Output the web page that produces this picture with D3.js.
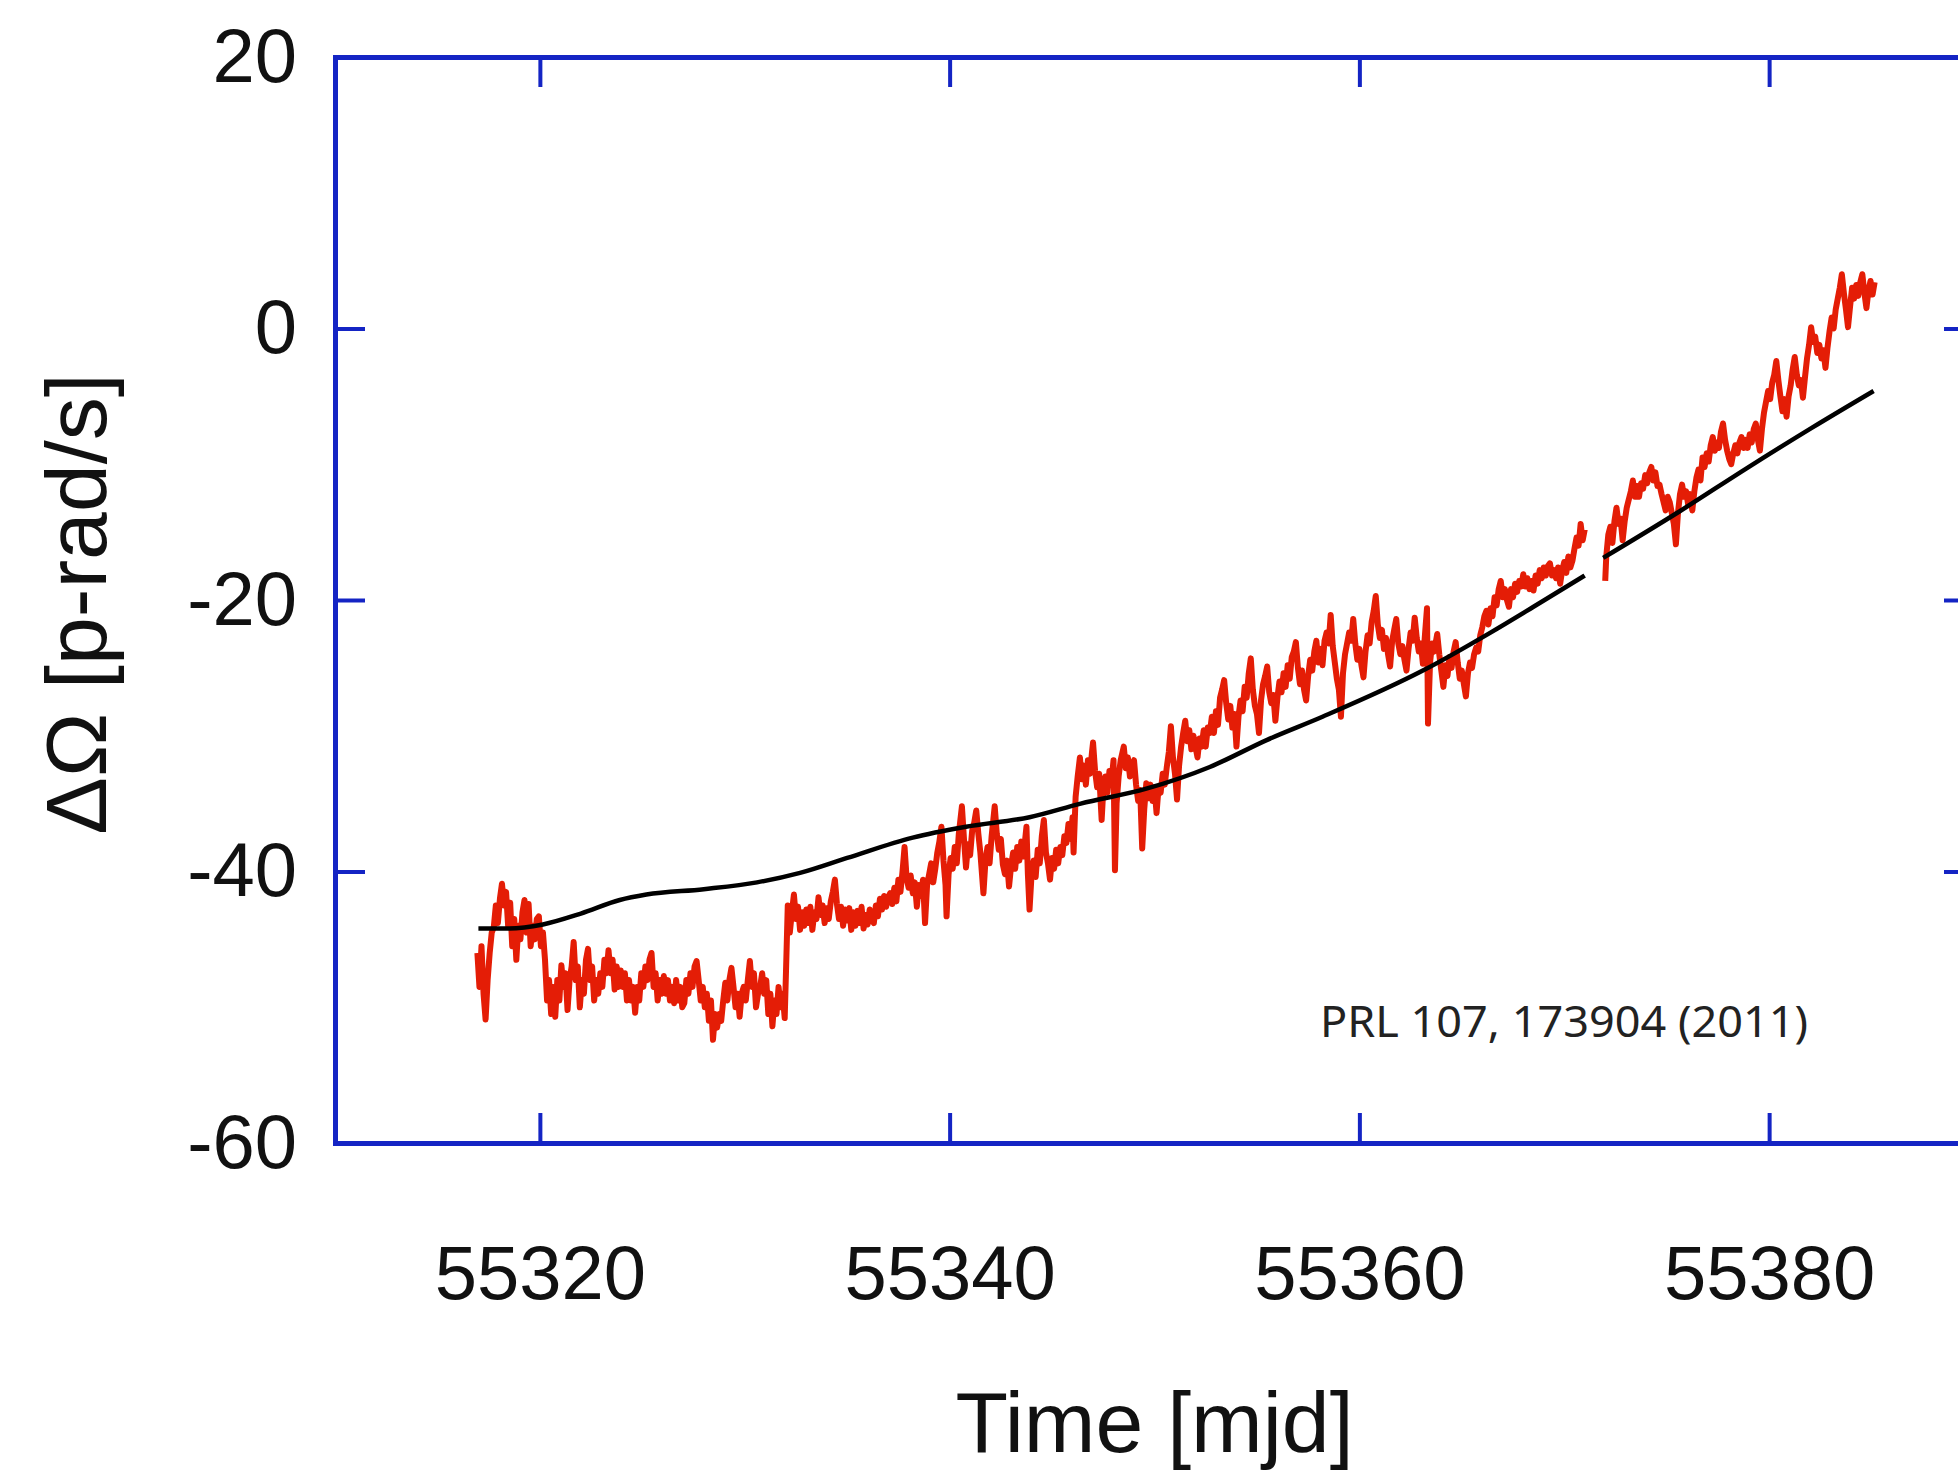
<!DOCTYPE html>
<html>
<head>
<meta charset="utf-8">
<script src="https://cdn.jsdelivr.net/npm/d3@7"></script>
<style>
  body { margin: 0; background: #fff; }
  svg { display: block; }
</style>
</head>
<body>
<div id="chart"></div>
<script>
// Chart constants
const w = 1958, h = 1476;
const frameColor = '#1424c4';
const redColor = '#e41d06';

// Axis ticks
const xTicks = [55320, 55340, 55360, 55380];
const yTicks = [-60, -40, -20, 0, 20];

// Measured spin rate, before and after the gap [mjd, p-rad/s]
const redSeg1 = [
  [55316.95,-46],[55317.05,-48.5],[55317.15,-45.5],[55317.25,-49],[55317.35,-50.9],[55317.45,-48],[55317.55,-46],[55317.65,-44.5],[55317.75,-44.1],[55317.85,-42.5],
  [55317.95,-43.8],[55318.05,-42],[55318.15,-40.9],[55318.25,-42.5],[55318.35,-41.5],[55318.45,-44],[55318.55,-42.3],[55318.65,-45.5],[55318.75,-43.5],[55318.85,-46.5],
  [55318.95,-44],[55319.05,-45],[55319.15,-43],[55319.25,-42.1],[55319.35,-44.5],[55319.45,-42.4],[55319.55,-45.5],[55319.65,-44],[55319.75,-45],[55319.85,-43.5],
  [55319.95,-43.3],[55320.05,-45.5],[55320.15,-44.5],[55320.25,-46.5],[55320.35,-49.5],[55320.45,-48],[55320.55,-50.5],[55320.65,-48.5],[55320.75,-50.7],[55320.85,-48],
  [55320.95,-49.5],[55321.05,-46.9],[55321.15,-48.5],[55321.25,-47.5],[55321.35,-50.2],[55321.45,-48],[55321.55,-47],[55321.65,-45.2],[55321.75,-48],[55321.85,-47],
  [55321.95,-50],[55322.05,-48],[55322.15,-49],[55322.25,-46.5],[55322.35,-45.7],[55322.45,-48],[55322.55,-47],[55322.65,-49.5],[55322.75,-48],[55322.85,-49],
  [55322.95,-47.5],[55323.05,-48.5],[55323.15,-46.5],[55323.25,-47.5],[55323.35,-45.8],[55323.45,-47.5],[55323.55,-46.5],[55323.65,-48.7],[55323.75,-47],[55323.85,-48.5],
  [55323.95,-47.3],[55324.05,-48.5],[55324.15,-47.5],[55324.25,-49.5],[55324.35,-48],[55324.45,-49.5],[55324.55,-48.5],[55324.65,-50.4],[55324.75,-48.5],[55324.85,-49.5],
  [55324.95,-47.5],[55325.05,-48.5],[55325.15,-47],[55325.25,-48],[55325.35,-46.5],[55325.45,-46],[55325.55,-48.5],[55325.65,-47.5],[55325.75,-49.5],[55325.85,-48],
  [55325.95,-49],[55326.05,-47.7],[55326.15,-49],[55326.25,-48],[55326.35,-49.5],[55326.45,-48.5],[55326.55,-49.7],[55326.65,-48],[55326.75,-49.5],[55326.85,-48.5],
  [55326.95,-50],[55327.05,-49.7],[55327.15,-48],[55327.25,-49],[55327.35,-47.5],[55327.45,-48.5],[55327.55,-47],[55327.65,-46.6],[55327.75,-48],[55327.85,-49.5],
  [55327.95,-48.5],[55328.05,-50],[55328.15,-49],[55328.25,-51],[55328.35,-49.5],[55328.45,-52.4],[55328.55,-50.5],[55328.65,-51.5],[55328.75,-50.5],[55328.85,-51],
  [55328.95,-49.5],[55329.05,-48.2],[55329.15,-49.5],[55329.25,-48],[55329.35,-47.1],[55329.45,-48.5],[55329.55,-50],[55329.65,-49],[55329.75,-50.7],[55329.85,-49],
  [55329.95,-48.5],[55330.05,-49.5],[55330.15,-48],[55330.25,-46.6],[55330.35,-48.5],[55330.45,-47.5],[55330.55,-50],[55330.65,-49],[55330.75,-48.5],[55330.85,-47.5],
  [55330.95,-49],[55331.05,-48],[55331.15,-50.5],[55331.25,-49],[55331.35,-51.4],[55331.45,-49.5],[55331.55,-50.5],[55331.65,-48.5],[55331.75,-50],[55331.85,-49],
  [55331.95,-50.8],[55332.02,-47],[55332.1,-42.5],[55332.2,-44.5],[55332.3,-43],[55332.4,-41.7],[55332.5,-43.5],[55332.6,-42.6],[55332.7,-44.3],[55332.8,-43],
  [55332.9,-44],[55333.0,-42.8],[55333.1,-43.8],[55333.2,-42.6],[55333.3,-44.3],[55333.4,-43],[55333.5,-43.5],[55333.6,-41.9],[55333.7,-43.2],[55333.8,-42.5],
  [55333.9,-43.8],[55334.0,-42.7],[55334.1,-43.5],[55334.2,-42.2],[55334.3,-41.5],[55334.4,-40.6],[55334.5,-42.4],[55334.6,-43.5],[55334.7,-42.6],[55334.8,-44],
  [55334.9,-42.8],[55335.0,-43.6],[55335.1,-42.7],[55335.2,-44.3],[55335.3,-43],[55335.4,-44],[55335.5,-42.9],[55335.6,-43.8],[55335.7,-42.6],[55335.8,-44.2],
  [55335.9,-43.2],[55336.0,-43.9],[55336.1,-42.8],[55336.2,-43.5],[55336.3,-43.8],[55336.4,-42.5],[55336.5,-43.3],[55336.6,-42],[55336.7,-42.8],[55336.8,-41.8],
  [55336.9,-42.6],[55337.0,-41.9],[55337.1,-41.6],[55337.2,-42.4],[55337.3,-41.2],[55337.4,-42.2],[55337.5,-40.6],[55337.6,-41.5],[55337.7,-40],[55337.8,-38.2],
  [55337.9,-40.5],[55338.0,-41.2],[55338.1,-40.3],[55338.2,-41.6],[55338.3,-40.8],[55338.4,-42.6],[55338.5,-41],[55338.6,-41.8],[55338.7,-40.6],[55338.8,-43.8],
  [55338.9,-41],[55339.0,-40.2],[55339.1,-39.4],[55339.2,-40.8],[55339.3,-39.8],[55339.4,-38.6],[55339.5,-37.8],[55339.6,-36.7],[55339.7,-39.2],[55339.8,-41],
  [55339.85,-43.3],[55339.95,-40.2],[55340.05,-39],[55340.15,-39.8],[55340.25,-38.2],[55340.35,-39.4],[55340.45,-37.2],[55340.6,-35.2],[55340.7,-37.6],[55340.8,-39.7],
  [55340.9,-38],[55341.0,-38.8],[55341.1,-37],[55341.2,-36.4],[55341.3,-35.5],[55341.4,-37.2],[55341.5,-38.6],[55341.65,-41.6],[55341.75,-39.2],[55341.85,-38.2],
  [55341.95,-39.4],[55342.05,-37.4],[55342.2,-35.2],[55342.3,-37.2],[55342.4,-38.4],[55342.5,-37.6],[55342.6,-39.5],[55342.7,-40.2],[55342.8,-39.2],[55342.9,-41.1],
  [55343.0,-39.6],[55343.1,-38.6],[55343.2,-39.8],[55343.3,-38.2],[55343.4,-39.2],[55343.5,-37.8],[55343.6,-38.9],[55343.75,-36.7],[55343.82,-40.2],[55343.9,-42.8],
  [55344.0,-40.2],[55344.1,-39.2],[55344.2,-40.4],[55344.3,-38.4],[55344.4,-39.4],[55344.5,-37.4],[55344.6,-36.2],[55344.7,-38.6],[55344.8,-39.4],[55344.9,-40.6],
  [55345.0,-39],[55345.1,-39.8],[55345.2,-38.4],[55345.3,-39.4],[55345.4,-38.2],[55345.5,-38.8],[55345.6,-37.4],[55345.7,-37.9],[55345.8,-36.5],[55345.9,-37.6],
  [55346.0,-36],[55346.05,-38.6],[55346.15,-34.5],[55346.25,-33],[55346.36,-31.6],[55346.45,-33.2],[55346.55,-32.2],[55346.65,-33.6],[55346.75,-31.8],[55346.85,-32.8],
  [55346.95,-31.2],[55347.0,-30.5],[55347.1,-32.6],[55347.2,-33.8],[55347.3,-32.8],[55347.42,-36.2],[55347.5,-34],[55347.6,-33],[55347.7,-34.2],[55347.8,-32.6],
  [55347.9,-33.4],[55348.0,-31.8],[55348.07,-39.9],[55348.15,-35],[55348.25,-33],[55348.35,-31.8],[55348.5,-30.8],[55348.6,-32.4],[55348.7,-31.6],[55348.8,-33],
  [55348.9,-32.2],[55349.0,-31.8],[55349.1,-33.6],[55349.2,-34.8],[55349.3,-34],[55349.4,-38.3],[55349.5,-35.4],[55349.6,-33.5],[55349.7,-34.6],[55349.8,-33.6],
  [55349.9,-34.8],[55350.0,-33.8],[55350.1,-35.7],[55350.2,-33.8],[55350.3,-34.2],[55350.4,-32.8],[55350.5,-33.6],[55350.6,-32.3],[55350.7,-31.2],[55350.8,-29.3],
  [55350.9,-31.6],[55351.0,-32.8],[55351.1,-34.7],[55351.2,-32.2],[55351.3,-30.8],[55351.4,-29.8],[55351.5,-28.9],[55351.6,-30.4],[55351.7,-29.6],[55351.8,-31],
  [55351.9,-30],[55352.0,-30.8],[55352.1,-31.6],[55352.2,-30.2],[55352.3,-30.8],[55352.4,-29.6],[55352.5,-30.8],[55352.6,-29.4],[55352.7,-29.8],[55352.8,-28.6],
  [55352.9,-29.8],[55353.0,-28.2],[55353.1,-29.2],[55353.2,-27.2],[55353.3,-26.6],[55353.4,-25.9],[55353.5,-27.6],[55353.6,-28.8],[55353.7,-27.8],[55353.8,-29.4],
  [55353.9,-28.4],[55354.0,-30.8],[55354.1,-28.6],[55354.2,-27.4],[55354.3,-28.2],[55354.4,-26.4],[55354.5,-27.2],[55354.6,-25.4],[55354.7,-24.3],[55354.8,-26.6],
  [55354.9,-27.8],[55355.0,-28.4],[55355.1,-29.8],[55355.2,-27.4],[55355.3,-26.2],[55355.4,-25.6],[55355.5,-24.9],[55355.6,-26.8],[55355.7,-27.6],[55355.8,-27],
  [55355.9,-28.9],[55356.0,-27.2],[55356.1,-26],[55356.2,-26.8],[55356.3,-25.4],[55356.4,-26.4],[55356.5,-24.8],[55356.6,-25.8],[55356.7,-24.2],[55356.8,-23.8],
  [55356.9,-23.1],[55357.0,-25],[55357.1,-26.2],[55357.2,-25.2],[55357.3,-26.6],[55357.4,-27.4],[55357.5,-25.6],[55357.6,-24.4],[55357.7,-25.2],[55357.8,-23.8],
  [55357.9,-23],[55358.0,-24.6],[55358.1,-23.6],[55358.2,-24.8],[55358.3,-23],[55358.4,-22.4],[55358.5,-23.2],[55358.6,-21.1],[55358.7,-23.4],[55358.8,-24.6],
  [55358.9,-25.8],[55359.0,-26.6],[55359.1,-28.6],[55359.2,-25.4],[55359.3,-24],[55359.4,-23.2],[55359.5,-22.4],[55359.6,-23],[55359.7,-21.4],[55359.8,-23.2],
  [55359.9,-24.4],[55360.0,-23.6],[55360.1,-24.8],[55360.2,-25.7],[55360.3,-23.8],[55360.4,-22.6],[55360.5,-23.2],[55360.6,-21.6],[55360.7,-20.8],[55360.8,-19.7],
  [55360.9,-21.8],[55361.0,-22.8],[55361.1,-22.2],[55361.2,-23.6],[55361.3,-22.8],[55361.4,-24],[55361.5,-24.9],[55361.6,-23],[55361.7,-22.2],[55361.8,-21.4],
  [55361.9,-23.2],[55362.0,-24],[55362.1,-23.4],[55362.2,-24.4],[55362.3,-25.2],[55362.4,-23.6],[55362.5,-22.4],[55362.6,-23],[55362.7,-21.3],[55362.8,-22.8],
  [55362.9,-23.8],[55363.0,-23.2],[55363.1,-24.7],[55363.2,-22.6],[55363.3,-20.6],[55363.35,-29.1],[55363.45,-24.6],[55363.55,-23.2],[55363.65,-23.8],[55363.8,-22.5],
  [55363.9,-24],[55364.0,-25.2],[55364.1,-26.4],[55364.2,-24.8],[55364.3,-25.6],[55364.4,-24.2],[55364.5,-25],[55364.6,-23.8],[55364.7,-23.1],[55364.8,-24.6],
  [55364.9,-25.8],[55365.0,-25.2],[55365.1,-26.2],[55365.2,-27.1],[55365.3,-25.4],[55365.4,-24.6],[55365.5,-25],[55365.6,-24],[55365.7,-23.5],[55365.8,-23.8],
  [55365.9,-22.6],[55366.0,-22],[55366.1,-21.2],[55366.2,-20.8],[55366.3,-21.8],[55366.4,-20.6],[55366.5,-21.2],[55366.6,-19.8],[55366.7,-20.4],[55366.8,-19.2],
  [55366.9,-18.6],[55367.0,-19.8],[55367.1,-19.2],[55367.2,-20],[55367.3,-20.5],[55367.4,-19.2],[55367.5,-19.8],[55367.6,-18.8],[55367.7,-19.4],[55367.8,-18.6],
  [55367.9,-19],[55368.0,-18.1],[55368.1,-19],[55368.2,-18.4],[55368.3,-19.2],[55368.4,-18.6],[55368.5,-19.3],[55368.6,-18.2],[55368.7,-18.8],[55368.8,-17.8],
  [55368.9,-18.4],[55369.0,-17.6],[55369.1,-18.2],[55369.2,-17.5],[55369.3,-17.3],[55369.4,-18.2],[55369.5,-17.8],[55369.6,-18.4],[55369.7,-17.6],[55369.8,-18.8],
  [55369.9,-17.8],[55370.0,-17.2],[55370.1,-18],[55370.2,-16.8],[55370.3,-17.6],[55370.4,-17.1],[55370.5,-16.2],[55370.6,-15.4],[55370.7,-16],[55370.8,-14.4],
  [55370.9,-15.6],[55371.0,-14.8]
];

const redSeg2 = [
  [55372.0,-18.6],[55372.05,-16.8],[55372.15,-15.2],[55372.25,-14.6],[55372.35,-15.8],[55372.45,-14.2],[55372.55,-13.2],[55372.65,-14.4],[55372.75,-14],[55372.85,-15.6],
  [55372.95,-14.2],[55373.05,-13.2],[55373.15,-12.6],[55373.25,-12],[55373.35,-11.2],[55373.45,-12.4],[55373.55,-11.6],[55373.65,-12.4],[55373.75,-11.4],[55373.85,-11.8],
  [55373.95,-10.8],[55374.05,-11.4],[55374.15,-10.6],[55374.25,-10.2],[55374.35,-11.2],[55374.45,-10.6],[55374.55,-11.6],[55374.65,-11.5],[55374.75,-12.2],[55374.85,-12.8],
  [55374.95,-13.4],[55375.05,-12.4],[55375.15,-12.8],[55375.25,-13.6],[55375.35,-14.4],[55375.45,-15.9],[55375.55,-13.6],[55375.65,-12.2],[55375.75,-11.5],[55375.85,-12.4],
  [55375.95,-12],[55376.05,-13],[55376.15,-12.2],[55376.25,-13.4],[55376.35,-12],[55376.45,-11],[55376.55,-10.4],[55376.65,-11.2],[55376.75,-9.5],[55376.85,-10.2],
  [55376.95,-9.2],[55377.05,-9.8],[55377.15,-8.6],[55377.25,-8],[55377.35,-9],[55377.45,-8.4],[55377.55,-8.8],[55377.65,-7.6],[55377.75,-7],[55377.85,-8.2],
  [55377.95,-9],[55378.05,-9.6],[55378.15,-10],[55378.25,-9.2],[55378.35,-8.6],[55378.45,-9.2],[55378.55,-8.4],[55378.65,-8],[55378.75,-8.8],[55378.85,-8.2],
  [55378.95,-8.8],[55379.05,-7.8],[55379.15,-8.4],[55379.25,-7.4],[55379.35,-7],[55379.45,-8.2],[55379.55,-9],[55379.65,-7.4],[55379.75,-6.2],[55379.85,-5.4],
  [55379.95,-4.6],[55380.05,-5.2],[55380.15,-4],[55380.25,-3.4],[55380.35,-2.4],[55380.45,-3.8],[55380.55,-5],[55380.65,-6.1],[55380.75,-5.2],[55380.85,-6.5],
  [55380.95,-5],[55381.05,-4.2],[55381.15,-3],[55381.25,-2.1],[55381.35,-3.4],[55381.45,-4.2],[55381.55,-3.8],[55381.65,-5.1],[55381.75,-3.6],[55381.85,-2.2],
  [55381.95,-1.2],[55382.05,0.1],[55382.15,-1],[55382.25,-0.6],[55382.35,-1.8],[55382.45,-1.2],[55382.55,-2.2],[55382.65,-1.6],[55382.75,-2.9],[55382.85,-1.4],
  [55382.95,-0.2],[55383.05,0.8],[55383.15,0],[55383.25,1.4],[55383.35,2.2],[55383.45,3],[55383.55,4],[55383.65,2.6],[55383.75,1.4],[55383.85,0.1],
  [55383.95,1.6],[55384.05,3],[55384.15,2.2],[55384.25,3.2],[55384.35,2.4],[55384.45,3.4],[55384.55,4],[55384.65,2.6],[55384.75,1.5],[55384.85,2.8],
  [55384.95,3.5],[55385.05,2.5],[55385.15,3.4]
];

// Model curve, two pieces
const fitSeg1 = [
  [55317.0,-44.2],[55318.5,-44.2],[55320.15,-43.9],[55322.0,-43.1],[55323.9,-42.1],[55325.2,-41.7],[55328.0,-41.3],
  [55330.6,-40.8],[55332.7,-40.1],[55335.0,-39.0],[55338.2,-37.5],[55340.8,-36.7],[55343.9,-36.0],[55346.4,-35.0],
  [55349.6,-33.9],[55352.7,-32.3],[55355.5,-30.3],[55358.2,-28.6],[55363.1,-25.2],[55366.4,-22.4],[55368.5,-20.5],[55371.0,-18.2]
];
const fitSeg2 = [
  [55371.9,-16.9],[55375.6,-13.5],[55378.9,-10.3],[55382.1,-7.3],[55385.1,-4.6]
];

const svg = d3.select('#chart')
  .append('svg')
  .attr('width', w)
  .attr('height', h);

svg.append('rect').attr('width', w).attr('height', h).attr('fill', '#fff');

// Scales
const xScale = d3.scaleLinear()
  .domain([55310, 55390])
  .range([335, 1974]);

const yScale = d3.scaleLinear()
  .domain([-60, 20])
  .range([1143, 57]);

const line = d3.line()
  .x((d) => xScale(d[0]))
  .y((d) => yScale(d[1]));

// Data traces
[redSeg1, redSeg2].forEach((seg) => {
  svg.append('path')
    .datum(seg)
    .attr('d', line)
    .attr('fill', 'none')
    .attr('stroke', redColor)
    .attr('stroke-width', 6)
    .attr('stroke-linejoin', 'round');
});

const fitLine = d3.line()
  .x((d) => xScale(d[0]))
  .y((d) => yScale(d[1]))
  .curve(d3.curveMonotoneX);

[fitSeg1, fitSeg2].forEach((seg) => {
  svg.append('path')
    .datum(seg)
    .attr('d', fitLine)
    .attr('fill', 'none')
    .attr('stroke', '#000')
    .attr('stroke-width', 4.5);
});

// Axes, ticks point inward on all four sides
const fontAxis = '"Liberation Sans", Arial, Helvetica, sans-serif';
const plain = (d) => String(d);

const xAxis = d3.axisBottom(xScale).tickValues(xTicks).tickFormat(plain).tickSizeInner(-30).tickSizeOuter(0).tickPadding(102);
const xAxisTop = d3.axisTop(xScale).tickValues(xTicks).tickSizeInner(-30).tickSizeOuter(0).tickFormat('');
const yAxis = d3.axisLeft(yScale).tickValues(yTicks).tickFormat(plain).tickSizeInner(-30).tickSizeOuter(0).tickPadding(38);
const yAxisRight = d3.axisRight(yScale).tickValues(yTicks).tickSizeInner(-30).tickSizeOuter(0).tickFormat('');

const gx = svg.append('g').attr('transform', 'translate(0,' + yScale(-60) + ')').call(xAxis);
const gxt = svg.append('g').attr('transform', 'translate(0,' + yScale(20) + ')').call(xAxisTop);
const gy = svg.append('g').attr('transform', 'translate(' + xScale(55310) + ',0)').call(yAxis);
const gyr = svg.append('g').attr('transform', 'translate(' + xScale(55390) + ',0)').call(yAxisRight);

[gx, gxt, gy, gyr].forEach((g) => {
  g.select('.domain').attr('stroke', frameColor).attr('stroke-width', 5).attr('stroke-linecap', 'square');
  g.selectAll('.tick line').attr('stroke', frameColor).attr('stroke-width', 4);
  g.selectAll('.tick text')
    .attr('fill', '#111')
    .style('font-family', fontAxis)
    .style('font-size', '76px');
});

// Axis titles
svg.append('text')
  .attr('x', (xScale(55310) + xScale(55390)) / 2)
  .attr('y', 1452)
  .attr('text-anchor', 'middle')
  .attr('fill', '#111')
  .style('font-family', fontAxis)
  .style('font-size', '86px')
  .text('Time [mjd]');

svg.append('text')
  .attr('transform', 'translate(106,' + 604 + ') rotate(-90)')
  .attr('text-anchor', 'middle')
  .attr('fill', '#111')
  .style('font-family', fontAxis)
  .style('font-size', '86px')
  .text('ΔΩ [p-rad/s]');

// Reference note
svg.append('text')
  .attr('x', 1320)
  .attr('y', 1037)
  .attr('fill', '#222')
  .attr('textLength', 488)
  .attr('lengthAdjust', 'spacingAndGlyphs')
  .style('font-family', '"Comic Sans MS", Chalkboard, "Noto Sans", sans-serif')
  .style('font-size', '44px')
  .text('PRL 107, 173904 (2011)');
</script>
</body>
</html>
